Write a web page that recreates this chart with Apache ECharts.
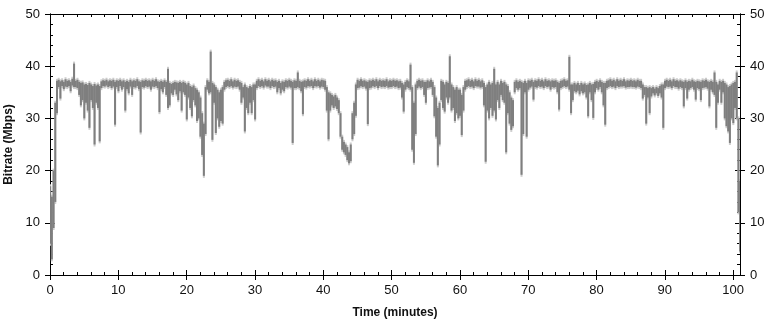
<!DOCTYPE html>
<html>
<head>
<meta charset="utf-8">
<script src="https://cdn.jsdelivr.net/npm/echarts@6/dist/echarts.min.js"></script>
<style>
  html, body { margin: 0; padding: 0; background: #fff; }
  #chart { width: 769px; height: 326px; }
</style>
</head>
<body>
<div id="chart"></div>
<script>
// one bin every quarter minute, highest / lowest bitrate in the bin
const STEP = 0.25;
const high = [
  17, 15, 20, 33, 37.2, 37.4, 37.1, 37.3, 37.0, 37.5, 37.2, 37.3, 37.0, 37.6, 40.5, 37.2, 37.4, 37.0, 36.8, 36.9,
  36.5, 36.6, 36.4, 36.8, 36.5, 36.2, 36.6, 36.3, 36.5, 36.2, 37.1, 37.3, 37.2, 37.4, 37.1, 37.3, 37.2, 37.4, 37.0, 37.3,
  37.2, 37.4, 37.1, 37.3, 37.0, 37.2, 37.0, 37.4, 37.1, 37.3, 37.2, 37.5, 37.1, 37.0, 37.3, 37.2, 37.4, 37.2, 37.3, 37.1,
  37.4, 37.2, 37.5, 37.1, 37.0, 37.2, 37.0, 37.3, 37.0, 39.5, 36.8, 36.6, 36.8, 37.0, 36.9, 36.8, 37.0, 36.8, 37.0, 36.8,
  36.5, 36.8, 36.2, 36.0, 36.3, 35.8, 35.5, 35.0, 34.0, 31.0, 29.0, 36.0, 37.3, 37.0, 42.8, 36.8, 36.5, 36.0, 35.5, 35.0,
  35.5, 36.0, 37.0, 37.3, 37.4, 37.2, 37.5, 37.1, 37.4, 37.2, 37.3, 37.0, 36.8, 36.0, 36.5, 36.0, 35.8, 36.2, 36.0, 36.5,
  36.5, 37.2, 37.5, 37.2, 37.4, 37.1, 37.5, 37.2, 37.4, 37.1, 37.4, 37.2, 37.3, 37.0, 37.2, 36.8, 37.1, 37.0, 37.3, 37.2,
  37.4, 37.2, 37.0, 37.3, 37.2, 38.8, 37.2, 37.0, 37.1, 37.3, 37.2, 37.5, 37.2, 37.4, 37.1, 37.5, 37.2, 37.4, 37.1, 37.4,
  37.3, 37.2, 36.0, 35.0, 34.8, 34.5, 34.2, 34.5, 34.0, 33.5, 31.0, 26.5, 25.5, 25.0, 24.5, 23.5, 25.0, 31.0, 33.0, 36.5,
  37.4, 37.2, 37.5, 37.2, 37.3, 37.1, 37.0, 37.3, 37.2, 37.4, 37.2, 37.5, 37.1, 37.4, 37.2, 37.3, 37.2, 37.5, 37.1, 37.3,
  37.2, 37.4, 37.2, 37.3, 37.1, 37.2, 36.8, 36.5, 37.0, 37.3, 37.1, 40.3, 36.0, 33.0, 36.5, 37.2, 37.4, 37.2, 37.3, 37.0,
  37.0, 37.3, 37.1, 37.4, 37.0, 36.0, 34.0, 32.0, 33.0, 37.2, 37.0, 36.5, 37.0, 36.8, 41.9, 36.5, 36.0, 35.5, 36.0, 35.5,
  35.5, 34.5, 36.0, 37.2, 37.3, 37.5, 37.2, 37.4, 37.1, 37.5, 37.2, 37.4, 37.1, 37.3, 36.8, 36.0, 36.5, 37.0, 36.5, 36.8,
  39.5, 36.5, 37.0, 36.5, 37.2, 36.8, 37.0, 36.5, 36.2, 35.0, 34.0, 33.5, 37.0, 37.3, 37.0, 37.2, 37.0, 36.8, 37.2, 36.8,
  37.3, 37.2, 37.4, 37.0, 37.3, 37.2, 37.5, 37.2, 37.4, 37.1, 37.5, 37.2, 37.3, 37.1, 37.3, 37.2, 37.3, 37.0, 36.8, 37.2,
  37.3, 37.5, 37.2, 37.3, 41.8, 36.5, 36.5, 36.8, 36.5, 36.8, 36.4, 36.8, 36.5, 36.7, 36.4, 36.5, 36.8, 36.5, 36.6, 37.0,
  37.2, 37.0, 37.3, 37.0, 36.8, 36.8, 37.2, 37.3, 37.5, 37.2, 37.4, 37.1, 37.5, 37.2, 37.4, 37.2, 37.5, 37.1, 37.3, 37.2,
  37.4, 37.2, 37.3, 37.1, 37.4, 37.2, 37.2, 36.5, 36.0, 36.0, 35.8, 36.0, 35.8, 36.0, 35.7, 36.0, 35.8, 36.2, 36.5, 36.5,
  37.2, 37.4, 37.2, 37.4, 37.1, 37.5, 37.2, 37.3, 37.1, 37.3, 37.1, 37.0, 37.3, 37.0, 37.2, 37.1, 37.4, 37.1, 37.0, 37.2,
  37.1, 37.0, 37.3, 37.2, 37.4, 37.1, 37.0, 37.2, 37.0, 38.8, 37.0, 36.5, 37.2, 37.0, 37.2, 36.8, 36.5, 36.0, 36.2, 36.5,
  36.8, 37.0, 38.8, 30.0, 18.0
];
const low = [
  6, 3, 9, 14, 31, 36.0, 33.8, 36.2, 35.6, 36.1, 36.0, 36.2, 35.2, 36.3, 36.0, 36.0, 35.8, 34.5, 32.5, 33.5,
  30.0, 33.0, 31.5, 28.2, 33.5, 32.0, 25.0, 33.0, 32.0, 25.6, 35.8, 36.2, 36.1, 36.3, 36.0, 36.2, 35.8, 36.1, 28.8, 36.0,
  35.2, 36.2, 35.5, 36.0, 31.5, 35.6, 34.8, 36.1, 34.5, 36.0, 35.9, 36.2, 35.6, 27.3, 36.0, 35.9, 36.2, 36.0, 36.1, 35.5,
  36.1, 36.0, 36.2, 35.8, 31.2, 35.6, 35.0, 36.0, 34.5, 32.0, 32.5, 34.8, 34.5, 35.5, 34.6, 33.5, 35.2, 31.5, 35.0, 34.5,
  29.8, 34.0, 32.0, 30.4, 33.5, 32.5, 29.5, 30.0, 26.5, 23.0, 19.0, 27.0, 35.5, 34.8, 35.0, 25.9, 33.0, 27.2, 30.0, 28.4,
  29.5, 29.0, 35.5, 36.0, 36.2, 36.0, 36.2, 35.9, 36.1, 36.0, 36.1, 35.5, 33.0, 34.0, 27.5, 32.0, 31.0, 33.0, 31.0, 33.5,
  29.8, 35.8, 36.2, 36.0, 36.2, 35.9, 36.3, 36.1, 36.1, 35.8, 36.2, 36.0, 36.1, 35.0, 35.8, 34.8, 35.5, 35.2, 36.0, 35.9,
  36.1, 35.9, 25.3, 35.8, 35.8, 36.0, 35.8, 35.2, 30.8, 36.0, 35.9, 36.2, 36.1, 36.2, 35.8, 36.2, 36.1, 36.2, 35.9, 36.1,
  36.0, 35.5, 31.5, 26.0, 31.5, 32.5, 32.0, 32.3, 31.8, 31.0, 26.5, 24.0, 23.5, 23.0, 22.0, 21.4, 21.8, 26.0, 27.0, 30.5,
  35.8, 35.9, 36.2, 36.0, 36.1, 35.7, 28.9, 35.8, 35.9, 36.2, 36.0, 36.2, 35.8, 36.2, 36.0, 36.1, 36.0, 36.2, 35.9, 36.0,
  36.0, 36.2, 36.0, 36.1, 35.8, 35.9, 34.0, 31.3, 35.5, 36.0, 35.8, 35.5, 24.0, 21.5, 27.0, 35.8, 36.1, 35.8, 36.0, 34.5,
  33.0, 35.8, 35.9, 36.0, 34.5, 30.4, 26.5, 21.0, 25.0, 33.5, 32.0, 31.3, 34.0, 33.0, 34.0, 31.5, 32.0, 29.5, 31.0, 30.0,
  30.5, 26.8, 31.5, 35.5, 36.0, 36.2, 36.0, 36.1, 35.8, 36.2, 36.1, 36.1, 35.9, 36.0, 32.5, 21.7, 31.5, 30.0, 32.0, 30.5,
  31.5, 29.8, 33.5, 32.0, 34.5, 33.5, 33.0, 23.5, 31.0, 29.0, 27.8, 28.5, 35.0, 35.8, 35.5, 35.8, 19.2, 27.0, 35.0, 26.5,
  35.5, 35.9, 36.1, 33.6, 36.0, 35.9, 36.2, 36.0, 36.1, 35.8, 36.2, 36.0, 36.1, 35.5, 36.0, 35.9, 36.0, 35.0, 31.7, 35.8,
  36.0, 36.2, 36.0, 36.1, 35.5, 31.0, 33.5, 35.2, 35.0, 35.3, 34.6, 35.2, 34.8, 35.0, 34.0, 30.4, 35.0, 33.5, 30.1, 35.0,
  35.8, 35.5, 36.0, 35.0, 32.5, 28.8, 35.8, 36.0, 36.2, 36.0, 36.1, 35.8, 36.2, 36.0, 36.1, 36.1, 36.2, 35.9, 36.0, 36.0,
  36.1, 36.0, 36.0, 35.9, 36.1, 36.0, 35.8, 33.8, 34.5, 29.0, 34.0, 31.0, 34.2, 34.8, 34.4, 34.8, 34.3, 34.8, 34.0, 28.2,
  35.8, 36.1, 36.0, 36.1, 35.8, 36.2, 36.0, 36.0, 35.7, 36.0, 35.8, 32.3, 35.8, 33.8, 35.5, 35.8, 36.0, 35.5, 33.6, 35.8,
  35.6, 33.5, 35.8, 35.9, 36.0, 35.7, 32.3, 35.5, 35.0, 34.5, 28.2, 33.0, 35.5, 33.0, 35.0, 30.0, 28.5, 27.5, 25.3, 30.0,
  29.1, 32.0, 30.0, 12.0, 4.5
];
const xRange = [0, 101];
const yRange = [0, 50];

const bins = high.map((h, i) => [i * STEP, low[i], h]);

const font = { fontFamily: 'Liberation Sans, Arial, sans-serif', fontSize: 13, color: '#111' };
const nameFont = { fontFamily: 'Liberation Sans, Arial, sans-serif', fontSize: 12, fontWeight: 'bold', color: '#111' };
const black = { color: '#000', width: 1 };

// main axis: labels + ticks pointing out; twin axis: ticks + minor ticks pointing in
function yAxisOf(pos, labels) {
  return {
    type: 'value', position: pos, min: yRange[0], max: yRange[1], interval: 10,
    axisLine: { show: true, onZero: false, lineStyle: black },
    axisTick: { show: true, inside: !labels, length: 5, lineStyle: black },
    minorTick: { show: !labels, splitNumber: 5, length: 3, lineStyle: black },
    axisLabel: { show: labels, margin: 10, ...font },
    splitLine: { show: false }
  };
}
function xAxisOf(pos, labels) {
  return {
    type: 'value', position: pos, min: xRange[0], max: xRange[1], interval: 10,
    axisLine: { show: true, onZero: false, lineStyle: black },
    axisTick: { show: true, inside: !labels, length: 5, lineStyle: black },
    minorTick: { show: !labels, splitNumber: 5, length: 3, lineStyle: black },
    axisLabel: { show: labels, margin: 9, ...font, showMaxLabel: false },
    splitLine: { show: false }
  };
}

const yLeft = yAxisOf('left', true);
yLeft.name = 'Bitrate (Mbps)';
yLeft.nameLocation = 'middle';
yLeft.nameGap = 35;
yLeft.nameTextStyle = nameFont;

const xBottom = xAxisOf('bottom', true);
xBottom.name = 'Time (minutes)';
xBottom.nameLocation = 'middle';
xBottom.nameGap = 32;
xBottom.nameTextStyle = nameFont;

// each bin is a thin vertical bar from low to high; pad = extra pixels for the pale halo
function binBar(color, pad) {
  return function (params, api) {
    const t = api.value(0);
    const w = api.size([STEP, 0])[0];
    const x = api.coord([t, 0])[0];
    const yTop = api.coord([t, api.value(2)])[1] - pad;
    const yBot = api.coord([t, api.value(1)])[1] + pad;
    return {
      type: 'rect',
      shape: { x: x - w / 2, y: yTop, width: w + 0.3, height: Math.max(1, yBot - yTop) },
      style: { fill: color }
    };
  };
}

const chart = echarts.init(document.getElementById('chart'));
chart.setOption({
  animation: false,
  grid: { left: 50, right: 29, top: 14, bottom: 51, containLabel: false, outerBoundsMode: 'none' },
  xAxis: [xBottom, xAxisOf('bottom', false), xAxisOf('top', false)],
  yAxis: [yLeft, yAxisOf('right', true), yAxisOf('left', false), yAxisOf('right', false)],
  series: [
    {
      type: 'custom', data: bins, xAxisIndex: 0, yAxisIndex: 0, clip: true,
      silent: true, z: 1, renderItem: binBar('#cbcbcb', 2),
      encode: { x: 0, y: [1, 2] }
    },
    {
      type: 'custom', data: bins, xAxisIndex: 0, yAxisIndex: 0, clip: true,
      silent: true, z: 2, renderItem: binBar('#7f7f7f', 0),
      encode: { x: 0, y: [1, 2] }
    }
  ]
});
</script>
</body>
</html>
